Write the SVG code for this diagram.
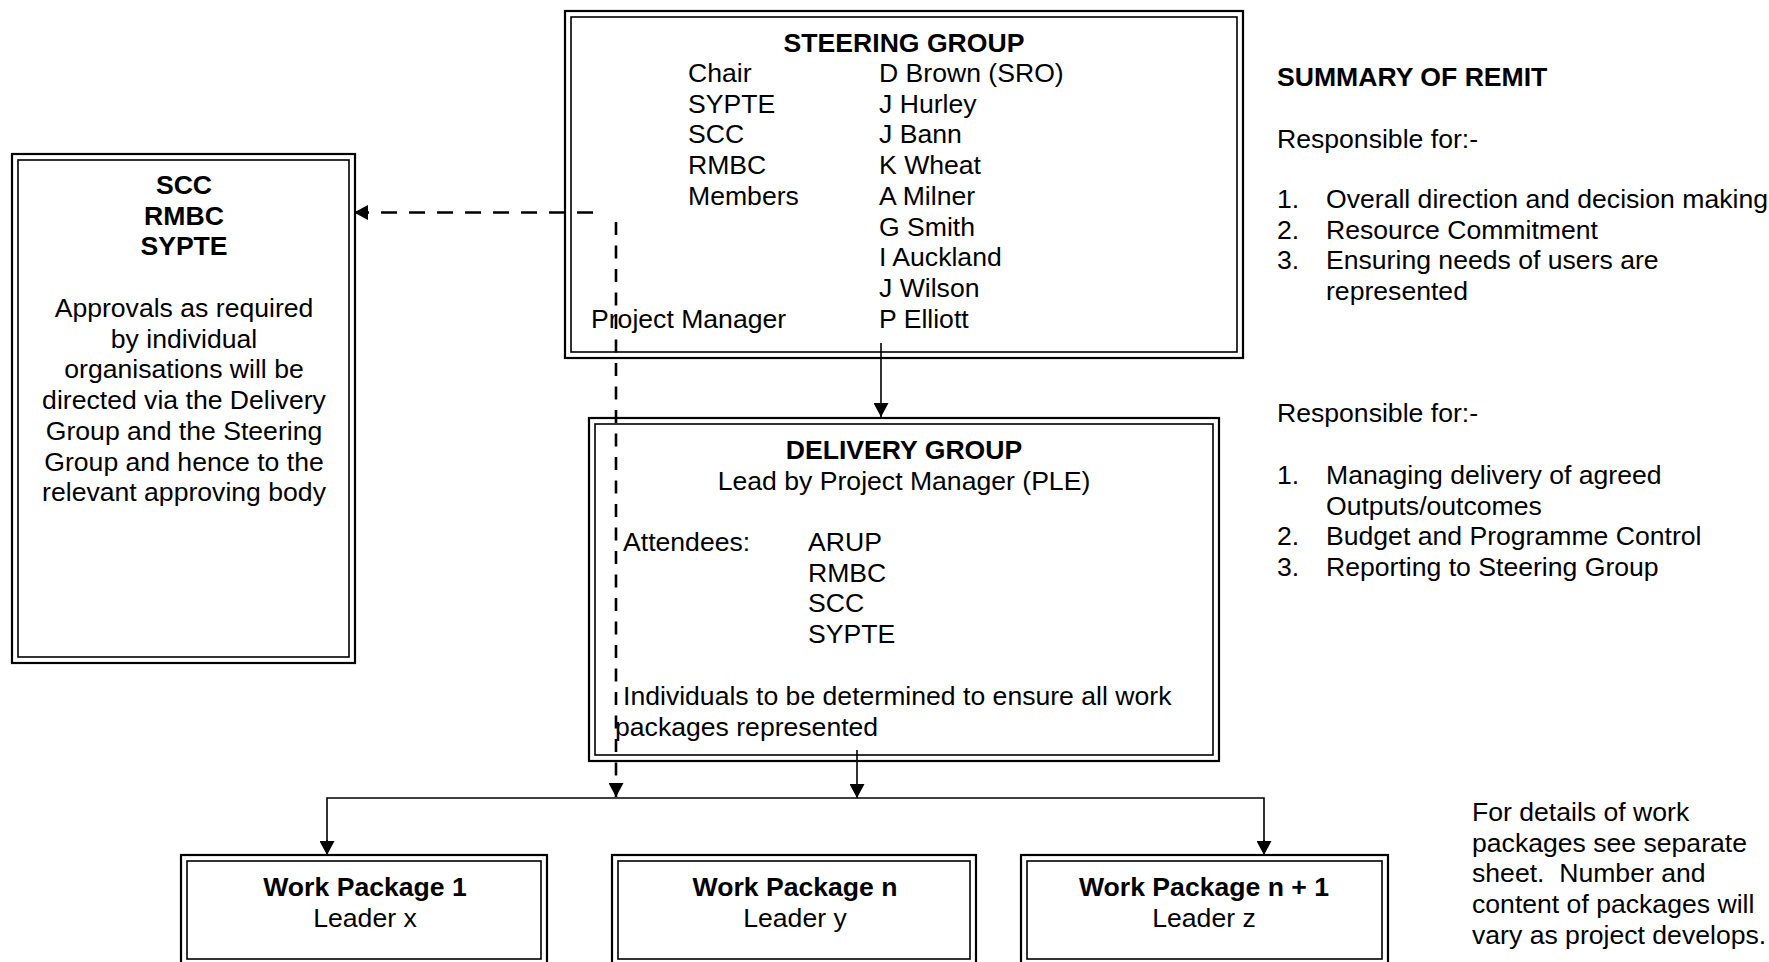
<svg xmlns="http://www.w3.org/2000/svg" width="1769" height="962" viewBox="0 0 1769 962">
<style>
text{font-family:"Liberation Sans",Arial,sans-serif;font-size:26.6px;fill:#000}
.b{font-weight:bold}
.m{text-anchor:middle}
.o{fill:none;stroke:#000;stroke-width:2.2}
.i{fill:none;stroke:#000;stroke-width:1.6}
.c{fill:none;stroke:#000;stroke-width:1.6}
.d{fill:none;stroke:#000;stroke-width:2.6}
</style>
<defs>
<marker id="ah" viewBox="0 0 14 15" refX="14" refY="7.5" markerWidth="14" markerHeight="15" markerUnits="userSpaceOnUse" orient="auto">
<path d="M0,0 L14,7.5 L0,15 z" fill="#000"/>
</marker>
</defs>
<rect width="1769" height="962" fill="#fff"/>

<g id="steering-group">
<rect class="o" x="565" y="11" width="678" height="347"/>
<rect class="i" x="571" y="17" width="666" height="335"/>
<text class="b m" transform="translate(904 52)">STEERING GROUP</text>
<text transform="translate(688 82)"><tspan x="0" y="0">Chair</tspan><tspan x="0" y="30.7">SYPTE</tspan><tspan x="0" y="61.4">SCC</tspan><tspan x="0" y="92.1">RMBC</tspan><tspan x="0" y="122.8">Members</tspan></text>
<text transform="translate(879 82)"><tspan x="0" y="0">D Brown (SRO)</tspan><tspan x="0" y="30.7">J Hurley</tspan><tspan x="0" y="61.4">J Bann</tspan><tspan x="0" y="92.1">K Wheat</tspan><tspan x="0" y="122.8">A Milner</tspan><tspan x="0" y="153.5">G Smith</tspan><tspan x="0" y="184.2">I Auckland</tspan><tspan x="0" y="214.9">J Wilson</tspan><tspan x="0" y="245.6">P Elliott</tspan></text>
<text transform="translate(591 327.6)">Project Manager</text>
</g>

<g id="approvals">
<rect class="o" x="12" y="154" width="343" height="509"/>
<rect class="i" x="18" y="160" width="331" height="497"/>
<text class="b m" transform="translate(184 194)"><tspan x="0" y="0">SCC</tspan><tspan x="0" y="30.7">RMBC</tspan><tspan x="0" y="61.4">SYPTE</tspan></text>
<text class="m" transform="translate(184 317)"><tspan x="0" y="0">Approvals as required</tspan><tspan x="0" y="30.7">by individual</tspan><tspan x="0" y="61.4">organisations will be</tspan><tspan x="0" y="92.1">directed via the Delivery</tspan><tspan x="0" y="122.8">Group and the Steering</tspan><tspan x="0" y="153.5">Group and hence to the</tspan><tspan x="0" y="184.2">relevant approving body</tspan></text>
</g>

<g id="delivery-group">
<rect class="o" x="589" y="418" width="630" height="343"/>
<rect class="i" x="595" y="424" width="618" height="331"/>
<text class="b m" transform="translate(904 459)">DELIVERY GROUP</text>
<text class="m" transform="translate(904 490)">Lead by Project Manager (PLE)</text>
<text transform="translate(623 551)">Attendees:</text>
<text transform="translate(808 551)"><tspan x="0" y="0">ARUP</tspan><tspan x="0" y="30.7">RMBC</tspan><tspan x="0" y="61.4">SCC</tspan><tspan x="0" y="92.1">SYPTE</tspan></text>
<text transform="translate(623 705)">Individuals to be determined to ensure all work</text>
<text transform="translate(615 736)">packages represented</text>
</g>

<g id="work-package-1">
<rect class="o" x="181" y="855" width="366" height="112"/>
<rect class="i" x="187" y="861" width="354" height="98"/>
<text class="b m" transform="translate(365 896)">Work Package 1</text>
<text class="m" transform="translate(365 927)">Leader x</text>
</g>

<g id="work-package-n">
<rect class="o" x="612" y="855" width="364" height="112"/>
<rect class="i" x="618" y="861" width="352" height="98"/>
<text class="b m" transform="translate(795 896)">Work Package n</text>
<text class="m" transform="translate(795 927)">Leader y</text>
</g>

<g id="work-package-n1">
<rect class="o" x="1021" y="855" width="367" height="112"/>
<rect class="i" x="1027" y="861" width="355" height="98"/>
<text class="b m" transform="translate(1204 896)">Work Package n + 1</text>
<text class="m" transform="translate(1204 927)">Leader z</text>
</g>

<g id="summary">
<text class="b" transform="translate(1277 86)">SUMMARY OF REMIT</text>
<text transform="translate(1277 148)">Responsible for:-</text>
<text transform="translate(1277 208)"><tspan x="0" y="0">1.</tspan><tspan x="0" y="30.7">2.</tspan><tspan x="0" y="61.4">3.</tspan></text>
<text transform="translate(1326 208)"><tspan x="0" y="0">Overall direction and decision making</tspan><tspan x="0" y="30.7">Resource Commitment</tspan><tspan x="0" y="61.4">Ensuring needs of users are</tspan><tspan x="0" y="92.1">represented</tspan></text>
<text transform="translate(1277 422)">Responsible for:-</text>
<text transform="translate(1277 484)"><tspan x="0" y="0">1.</tspan><tspan x="0" y="61.4">2.</tspan><tspan x="0" y="92.1">3.</tspan></text>
<text transform="translate(1326 484)"><tspan x="0" y="0">Managing delivery of agreed</tspan><tspan x="0" y="30.7">Outputs/outcomes</tspan><tspan x="0" y="61.4">Budget and Programme Control</tspan><tspan x="0" y="92.1">Reporting to Steering Group</tspan></text>
</g>

<g id="note">
<text transform="translate(1472 821)"><tspan x="0" y="0">For details of work</tspan><tspan x="0" y="30.7">packages see separate</tspan><tspan x="0" y="61.4">sheet.&#160; Number and</tspan><tspan x="0" y="92.1">content of packages will</tspan><tspan x="0" y="122.8">vary as project develops.</tspan></text>
</g>

<g id="connectors">
<line class="c" x1="881" y1="343" x2="881" y2="417" marker-end="url(#ah)"/>
<line class="c" x1="857" y1="750" x2="857" y2="798" marker-end="url(#ah)"/>
<polyline class="c" points="327,855 327,798 1264,798 1264,855"/>
<line class="c" x1="327" y1="840" x2="327" y2="855" marker-end="url(#ah)"/>
<line class="c" x1="1264" y1="840" x2="1264" y2="855" marker-end="url(#ah)"/>
<line class="d" x1="616" y1="222" x2="616" y2="797" stroke-dasharray="13 10.5" marker-end="url(#ah)"/>
<line class="d" x1="593" y1="212.5" x2="354" y2="212.5" stroke-dasharray="16 12" marker-end="url(#ah)"/>
</g>
</svg>
